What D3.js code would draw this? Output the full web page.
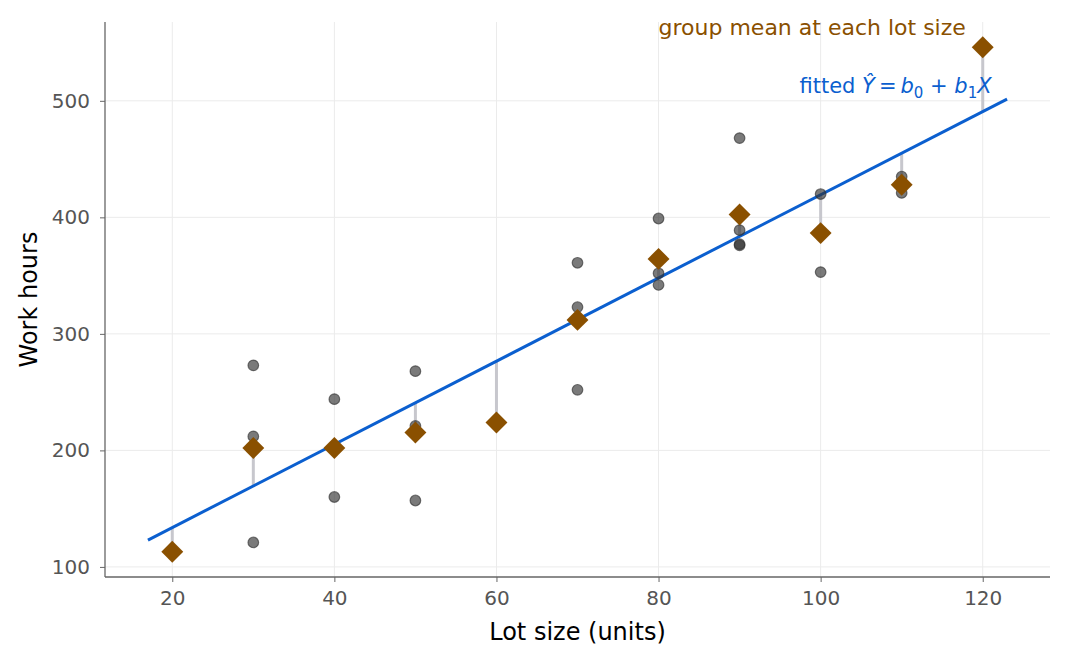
<!DOCTYPE html>
<html>
<head>
<meta charset="utf-8">
<script src="https://cdn.jsdelivr.net/npm/d3@7"></script>
<style>
  body { margin: 0; background: #fff; }
  svg text { font-family: "DejaVu Sans", sans-serif; }
</style>
</head>
<body>
<svg id="chart" width="1068" height="662"></svg>
<script>
// Toluca lot size vs work hours
const lotSize = [80, 30, 50, 90, 70, 60, 120, 80, 100, 50, 40, 70, 90, 20, 110, 100, 30, 50, 90, 110, 30, 90, 40, 80, 70];
const workHours = [399, 121, 221, 376, 361, 224, 546, 352, 353, 157, 160, 252, 389, 113, 435, 420, 212, 268, 377, 421, 273, 468, 244, 342, 323];

const groupLots = [20, 30, 40, 50, 60, 70, 80, 90, 100, 110, 120];
const groupMeans = [113, 202, 202, 215.33, 224, 312, 364.33, 402.5, 386.5, 428, 546];

const b0 = 62.37;
const b1 = 3.5702;
const lineRange = [17, 123];

const xTicks = [20, 40, 60, 80, 100, 120];
const yTicks = [100, 200, 300, 400, 500];

const W = 1068, H = 662;
const margin = { left: 105, right: 18, top: 22, bottom: 85 };

const svg = d3.select("#chart");

const x = d3.scaleLinear().domain([11.7, 128.3]).range([margin.left, W - margin.right]);
const y = d3.scaleLinear().domain([91.35, 567.65]).range([H - margin.bottom, margin.top]);

const brown = "#8a5000";
const blue = "#0b5fcf";

// grid
svg.append("g").selectAll("line").data(xTicks).join("line")
    .attr("x1", d => x(d)).attr("x2", d => x(d))
    .attr("y1", margin.top).attr("y2", H - margin.bottom)
    .attr("stroke", "#ebebeb").attr("stroke-width", 1);
svg.append("g").selectAll("line").data(yTicks).join("line")
    .attr("x1", margin.left).attr("x2", W - margin.right)
    .attr("y1", d => y(d)).attr("y2", d => y(d))
    .attr("stroke", "#ebebeb").attr("stroke-width", 1);

// residual segments (group mean to fitted line)
svg.append("g").selectAll("line").data(groupLots).join("line")
    .attr("x1", d => x(d)).attr("x2", d => x(d))
    .attr("y1", (d, i) => y(groupMeans[i]))
    .attr("y2", d => y(b0 + b1 * d))
    .attr("stroke", "#c7c7cd").attr("stroke-width", 3);

// fitted line
svg.append("line")
    .attr("x1", x(lineRange[0])).attr("y1", y(b0 + b1 * lineRange[0]))
    .attr("x2", x(lineRange[1])).attr("y2", y(b0 + b1 * lineRange[1]))
    .attr("stroke", blue).attr("stroke-width", 3);

// observations
svg.append("g").selectAll("circle").data(lotSize).join("circle")
    .attr("cx", d => x(d))
    .attr("cy", (d, i) => y(workHours[i]))
    .attr("r", 5.3)
    .attr("fill", "#333").attr("fill-opacity", 0.65)
    .attr("stroke", "#333").attr("stroke-opacity", 0.65).attr("stroke-width", 1.2);

// group means (diamonds)
const diamond = d3.symbol().type(d3.symbolSquare).size(240);
svg.append("g").selectAll("path").data(groupLots).join("path")
    .attr("d", diamond)
    .attr("transform", (d, i) => `translate(${x(d)},${y(groupMeans[i])}) rotate(45)`)
    .attr("fill", brown);

// axes
const xAxis = svg.append("g")
    .attr("transform", `translate(0,${H - margin.bottom})`)
    .call(d3.axisBottom(x).tickValues(xTicks).tickSize(5).tickPadding(9).tickSizeOuter(0));
const yAxis = svg.append("g")
    .attr("transform", `translate(${margin.left},0)`)
    .call(d3.axisLeft(y).tickValues(yTicks).tickSize(5).tickPadding(10).tickSizeOuter(0));

[xAxis, yAxis].forEach(a => {
    a.attr("font-family", "DejaVu Sans").attr("font-size", 20);
    a.select(".domain").attr("stroke", "#666").attr("stroke-width", 1.3);
    a.selectAll(".tick line").attr("stroke", "#666");
    a.selectAll(".tick text").attr("fill", "#555");
});
xAxis.select(".domain").attr("d", `M${margin.left},0H${W - margin.right}`);
yAxis.select(".domain").attr("d", `M0,${margin.top}V${H - margin.bottom}`);

// axis titles
svg.append("text")
    .attr("x", (margin.left + W - margin.right) / 2).attr("y", 640)
    .attr("text-anchor", "middle").style("font-size", "24px").attr("fill", "#000")
    .text("Lot size (units)");
svg.append("text")
    .attr("transform", `translate(37,${(margin.top + H - margin.bottom) / 2}) rotate(-90)`)
    .attr("text-anchor", "middle").style("font-size", "24px").attr("fill", "#000")
    .text("Work hours");

// annotations
svg.append("text")
    .attr("x", x(80)).attr("y", 35)
    .style("font-size", "22px").attr("fill", brown)
    .text("group mean at each lot size");

const fit = svg.append("text")
    .attr("x", x(121.1)).attr("y", 93)
    .attr("text-anchor", "end")
    .style("font-size", "21px").attr("fill", blue);
fit.append("tspan").text("fitted ");
fit.append("tspan").attr("font-style", "italic").text("Ŷ");
fit.append("tspan").attr("dx", 4).text("=");
fit.append("tspan").attr("dx", 4).attr("font-style", "italic").text("b");
fit.append("tspan").attr("dy", 5).style("font-size", "15px").text("0");
fit.append("tspan").attr("dy", -5).text(" + ");
fit.append("tspan").attr("font-style", "italic").text("b");
fit.append("tspan").attr("dy", 5).style("font-size", "15px").text("1");
fit.append("tspan").attr("dy", -5).attr("font-style", "italic").text("X");
</script>
</body>
</html>
